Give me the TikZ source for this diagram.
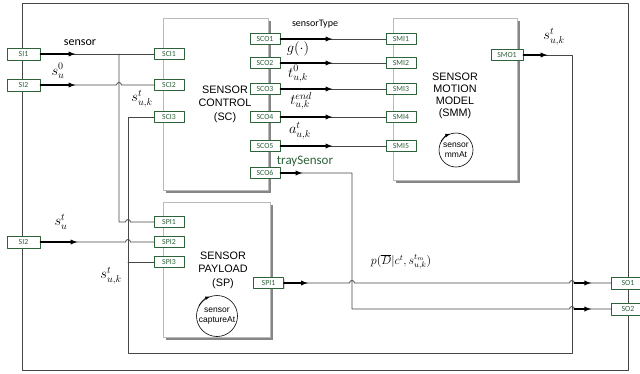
\documentclass[tikz,border=0pt]{standalone}
\usepackage{fontspec}
\setmainfont{Liberation Sans}
\newfontfamily\portfont{Carlito}
\usetikzlibrary{shadows}

\definecolor{portgreen}{RGB}{46,98,58}
\definecolor{wiregray}{RGB}{70,70,70}

\tikzset{
  port/.style={draw=portgreen, fill=white, text=portgreen, line width=0.7pt,
    font=\portfont\fontsize{7.8}{8}\selectfont, minimum width=30pt,
    minimum height=10.5pt, inner sep=0pt,
    drop shadow={shadow xshift=1pt, shadow yshift=-1pt, fill=gray!60}},
  bigport/.style={port, minimum width=33pt, minimum height=12pt},
  block/.style={draw=gray!55, fill=white, line width=1pt, inner sep=0pt,
    drop shadow={shadow xshift=3pt, shadow yshift=-3pt, fill=gray!95!black, opacity=0.9}},
  blocktext/.style={align=center, font=\fontsize{10.8}{13.5}\selectfont},
  wire/.style={draw=wiregray, line width=0.8pt},
  feed/.style={->, draw=black, line width=1.3pt},
  lbl/.style={font=\fontsize{14.4}{15}\selectfont},
  word/.style={font=\portfont\fontsize{13}{13}\selectfont},
}

\begin{document}
\begin{tikzpicture}[x=1pt, y=-1pt, >=latex, line cap=round, line join=round]
\useasboundingbox (0,0) rectangle (640,373);
\def\hop{arc[start angle=180, end angle=360, radius=2.5]}

% sensor model frame
\draw[wire] (22,3) rectangle (628,370);

% atomic models
\node[block, minimum width=105pt, minimum height=172pt] (sc) at (215.5,104) {};
\node[block, minimum width=124pt, minimum height=162pt] (smm) at (455,99) {};
\node[block, minimum width=107pt, minimum height=135pt] (sp) at (216.5,269.5) {};
\node[blocktext] (sclabel) at (225,104) {SENSOR\\CONTROL\\(SC)};
\node[blocktext, font=\fontsize{10.8}{12}\selectfont] (smmlabel) at (455,95.5) {SENSOR\\MOTION\\MODEL\\(SMM)};
\node[blocktext] (splabel) at (223,270) {SENSOR\\PAYLOAD\\(SP)};

% internal transitions
\node[draw, circle, minimum size=34pt, inner sep=0pt, line width=0.6pt, align=center,
  font=\fontsize{8.5}{9.5}\selectfont] (mmat) at (456,150) {sensor\\mmAt};
\draw[->, line width=0.6pt] (mmat.150) arc[start angle=210, end angle=250, radius=17];
\node[draw, circle, minimum size=41pt, inner sep=0pt, line width=0.6pt, align=center,
  font=\fontsize{8.5}{9.5}\selectfont] (capat) at (217,316) {sensor\\captureAt};
\draw[->, line width=0.6pt] (capat.150) arc[start angle=210, end angle=250, radius=20.5];

% ports
\node[bigport] (si1) at (23.5,54) {SI1};
\node[bigport] (si2) at (23.5,85) {SI2};
\node[bigport] (si2b) at (23.5,242) {SI2};
\node[bigport] (so1) at (628,283) {SO1};
\node[bigport] (so2) at (628,309) {SO2};
\node[port] (sci1) at (169,54) {SCI1};
\node[port] (sci2) at (169,85) {SCI2};
\node[port] (sci3) at (169,117) {SCI3};
\node[port] (spi1) at (169,222) {SPI1};
\node[port] (spi2) at (169,242) {SPI2};
\node[port] (spi3) at (169,262) {SPI3};
\node[port] (spo1) at (268.5,283) {SPI1};
\node[port, minimum width=32pt] (smo1) at (507,55) {SMO1};
\node[port] (sco6) at (265,173) {SCO6};

% control -> motion model
\foreach \i/\y in {1/39,2/63,3/89,4/117,5/146} {
  \node[port] (sco\i) at (265,\y) {SCO\i};
  \node[port] (smi\i) at (401,\y) {SMI\i};
  \draw[wire] (sco\i.east) -- (smi\i.west);
  \draw[feed] (sco\i.east) -- ++(52,0);
}

% sensor
\coordinate (sbr) at (119,54);
\draw[wire] (si1.east) -- (sci1.west);
\draw[wire] (sbr) -- (119,222) -- (125.5,222) \hop -- (spi1.west);
\draw[feed] (si1.east) -- ++(35,0);

% initial and current state
\draw[wire] (si2.east) -- (116.5,85) \hop -- (sci2.west);
\draw[feed] (si2.east) -- ++(35,0);
\draw[wire] (si2b.east) -- (125.5,242) \hop -- (spi2.west);
\draw[feed] (si2b.east) -- ++(37,0);

% state feedback
\coordinate (fbr) at (128,262);
\draw[wire] (smo1.east) -| (572,353) -| (128,117) -- (sci3.west);
\draw[wire] (fbr) -- (spi3.west);
\draw[feed] (smo1.east) -- ++(24,0);

% outputs
\draw[wire] (sco6.east) -| (352,309) -- (569.5,309) \hop -- (so2.west);
\draw[feed] (sco6.east) -- ++(22,0);
\draw[feed] ([xshift=-37pt]so2.west) -- ([xshift=-20pt]so2.west);
\draw[wire] (spo1.east) -- (349.5,283) \hop -- (569.5,283) \hop -- (so1.west);
\draw[feed] (spo1.east) -- ++(24,0);
\draw[feed] ([xshift=-37pt]so1.west) -- ([xshift=-20pt]so1.west);

% labels
\node[word, font=\portfont\fontsize{12}{12}\selectfont] (tsensor) at (80,43) {sensor};
\node[lbl] (tsu0) at (58,71) {$s_u^0$};
\node[lbl] (tsuk1) at (142,99) {$s_{u,k}^t$};
\node[lbl] (tsut) at (61,222) {$s_u^t$};
\node[lbl] (tsuk2) at (111,276) {$s_{u,k}^t$};
\node[word, font=\portfont\fontsize{10}{10}\selectfont] (ttype) at (315,24) {sensorType};
\node[lbl] (tg) at (298,49) {$g(\cdot)$};
\node[lbl] (tt0) at (298,74) {$t_{u,k}^0$};
\node[lbl] (tend) at (301,101) {$t_{u,k}^{end}$};
\node[lbl] (ta) at (300,131) {$a_{u,k}^t$};
\node[word, text=portgreen] (ttray) at (305,161) {traySensor};
\node[lbl] (tsuk3) at (554,37) {$s_{u,k}^t$};
\node[font=\fontsize{12}{12}\selectfont] (tp) at (401,262) {$p(\overline{D}|c^t,s_{u,k}^{t_m})$};
\end{tikzpicture}
\end{document}
